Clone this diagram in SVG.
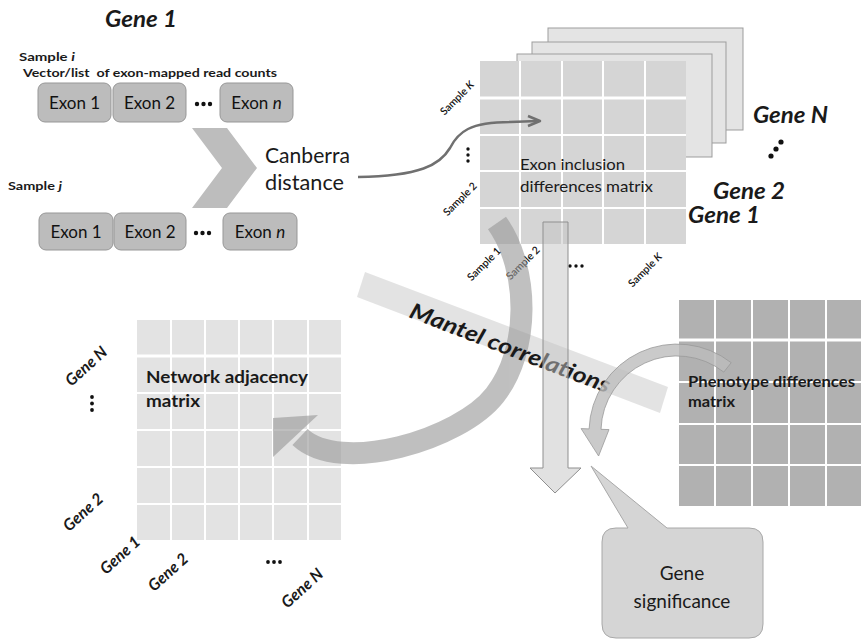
<svg xmlns="http://www.w3.org/2000/svg" width="861" height="640" viewBox="0 0 861 640">
<style>
text{font-family:Lato,"Open Sans","Liberation Sans",sans-serif;fill:#1a1a1a}
.gt{font-weight:bold;font-style:italic}
.b{font-weight:bold}
.exon{fill:#bcbcbc;stroke:#979797;stroke-width:1}
.exl{font-size:17px;text-anchor:middle;fill:#111}
.grid{stroke:#fff;stroke-width:2}
.plate{fill:#e4e4e4;stroke:#9d9d9d;stroke-width:1}
.sl{font-size:10.5px;font-weight:600;text-anchor:middle;fill:#111}
.gl{font-size:16px;font-weight:bold;font-style:italic;text-anchor:middle}
.dot{fill:#111}
</style>

<g id="gene1-title"><text class="gt" x="105" y="27" font-size="22" textLength="72" lengthAdjust="spacingAndGlyphs">Gene 1</text></g>

<g id="sample-i">
<text class="b" x="19" y="61" font-size="12" textLength="56" lengthAdjust="spacingAndGlyphs">Sample <tspan font-style="italic">i</tspan></text>
<text class="b" x="23" y="77" font-size="12" textLength="254" lengthAdjust="spacingAndGlyphs" style="white-space:pre">Vector/list  of exon-mapped read counts</text>
<rect class="exon" x="38" y="83" width="73" height="39" rx="7"/>
<rect class="exon" x="113" y="83" width="73" height="39" rx="7"/>
<rect class="exon" x="220" y="83" width="73" height="39" rx="7"/>
<text class="exl" x="74.5" y="109">Exon 1</text>
<text class="exl" x="149.5" y="109">Exon 2</text>
<text class="exl" x="256.5" y="109">Exon <tspan font-style="italic">n</tspan></text>
<circle class="dot" cx="197" cy="104" r="2.2"/><circle class="dot" cx="203.5" cy="104" r="2.2"/><circle class="dot" cx="210" cy="104" r="2.2"/>
</g>

<g id="sample-j">
<text class="b" x="8" y="190" font-size="11" textLength="54" lengthAdjust="spacingAndGlyphs">Sample <tspan font-style="italic">j</tspan></text>
<rect class="exon" x="39" y="213" width="74" height="37" rx="7"/>
<rect class="exon" x="114" y="213" width="72" height="37" rx="7"/>
<rect class="exon" x="223" y="213" width="74" height="37" rx="7"/>
<text class="exl" x="76" y="238">Exon 1</text>
<text class="exl" x="150" y="238">Exon 2</text>
<text class="exl" x="260" y="238">Exon <tspan font-style="italic">n</tspan></text>
<circle class="dot" cx="196" cy="233" r="2.2"/><circle class="dot" cx="202.5" cy="233" r="2.2"/><circle class="dot" cx="209" cy="233" r="2.2"/>
</g>

<g id="canberra">
<polygon points="192,128 227,128 257,168 227,208 192,208 222,168" fill="#bdbdbd"/>
<text x="265" y="163" font-size="22" fill="#111" textLength="85" lengthAdjust="spacingAndGlyphs">Canberra</text>
<text x="265" y="190" font-size="22" fill="#111" textLength="79" lengthAdjust="spacingAndGlyphs">distance</text>
</g>

<g id="exon-matrix">
<rect class="plate" x="548" y="28" width="195" height="102"/>
<rect class="plate" x="532" y="42" width="194" height="101"/>
<rect class="plate" x="517" y="54" width="195" height="103"/>
<rect x="480" y="61" width="206" height="183" fill="#d5d5d5"/>
<g class="grid">
<line x1="520" y1="61" x2="520" y2="244"/><line x1="562" y1="61" x2="562" y2="244"/><line x1="603" y1="61" x2="603" y2="244"/><line x1="645" y1="61" x2="645" y2="244"/>
<line x1="480" y1="98" x2="686" y2="98" stroke-width="3"/><line x1="480" y1="135" x2="686" y2="135"/><line x1="480" y1="171" x2="686" y2="171"/><line x1="480" y1="208" x2="686" y2="208"/>
</g>
<text x="520" y="170" font-size="16" fill="#111" textLength="105" lengthAdjust="spacingAndGlyphs">Exon inclusion</text>
<text x="520" y="192" font-size="16" fill="#111" textLength="133" lengthAdjust="spacingAndGlyphs">differences matrix</text>
<text class="sl" transform="translate(457,98) rotate(-45)" dy="0.35em">Sample <tspan font-style="italic">K</tspan></text>
<circle class="dot" cx="468" cy="149" r="1.7"/><circle class="dot" cx="468" cy="155" r="1.7"/><circle class="dot" cx="468" cy="161" r="1.7"/>
<text class="sl" transform="translate(460,199) rotate(-45)" dy="0.35em">Sample 2</text>
<text class="sl" transform="translate(484,264) rotate(-45)" dy="0.35em">Sample 1</text>
<text class="sl" transform="translate(523,263) rotate(-45)" dy="0.35em">Sample 2</text>
<circle class="dot" cx="570" cy="266" r="1.7"/><circle class="dot" cx="576" cy="266" r="1.7"/><circle class="dot" cx="582" cy="266" r="1.7"/>
<text class="sl" transform="translate(645,270) rotate(-45)" dy="0.35em">Sample <tspan font-style="italic">K</tspan></text>
<text class="gt" x="753" y="123" font-size="23" textLength="75" lengthAdjust="spacingAndGlyphs">Gene N</text>
<circle class="dot" cx="771" cy="156" r="2.6"/><circle class="dot" cx="776" cy="149" r="2.6"/><circle class="dot" cx="781" cy="142" r="2.6"/>
<text class="gt" x="713" y="199" font-size="23" textLength="72" lengthAdjust="spacingAndGlyphs">Gene 2</text>
<text class="gt" x="688" y="223" font-size="23" textLength="72" lengthAdjust="spacingAndGlyphs">Gene 1</text>
</g>

<g id="adjacency-matrix">
<rect x="137" y="320" width="204" height="220" fill="#e3e3e3"/>
<g class="grid">
<line x1="171" y1="320" x2="171" y2="540"/><line x1="205" y1="320" x2="205" y2="540"/><line x1="239" y1="320" x2="239" y2="540"/><line x1="273" y1="320" x2="273" y2="540"/><line x1="308" y1="320" x2="308" y2="540"/>
<line x1="137" y1="356" x2="341" y2="356" stroke-width="3"/><line x1="137" y1="393" x2="341" y2="393"/><line x1="137" y1="430" x2="341" y2="430"/><line x1="137" y1="467" x2="341" y2="467"/><line x1="137" y1="504" x2="341" y2="504"/>
</g>
<text class="b" x="146" y="383" font-size="17" textLength="162" lengthAdjust="spacingAndGlyphs">Network adjacency</text>
<text class="b" x="146" y="407" font-size="17" textLength="54" lengthAdjust="spacingAndGlyphs">matrix</text>
<text class="gl" transform="translate(86,366) rotate(-42)" dy="0.35em">Gene N</text>
<circle class="dot" cx="92" cy="397" r="1.9"/><circle class="dot" cx="92" cy="403.5" r="1.9"/><circle class="dot" cx="92" cy="410" r="1.9"/>
<text class="gl" transform="translate(83,512) rotate(-42)" dy="0.35em">Gene 2</text>
<text class="gl" transform="translate(120,555) rotate(-42)" dy="0.35em">Gene 1</text>
<text class="gl" transform="translate(168,572) rotate(-42)" dy="0.35em">Gene 2</text>
<circle class="dot" cx="268" cy="562" r="1.9"/><circle class="dot" cx="274" cy="562" r="1.9"/><circle class="dot" cx="280" cy="562" r="1.9"/>
<text class="gl" transform="translate(302,588) rotate(-42)" dy="0.35em">Gene N</text>
</g>

<g id="phenotype-matrix">
<rect x="679" y="300" width="182" height="206" fill="#b1b1b1"/>
<g class="grid">
<line x1="715" y1="300" x2="715" y2="506"/><line x1="752" y1="300" x2="752" y2="506"/><line x1="789" y1="300" x2="789" y2="506"/><line x1="826" y1="300" x2="826" y2="506"/>
<line x1="679" y1="340" x2="861" y2="340" stroke-width="3"/><line x1="679" y1="382" x2="861" y2="382"/><line x1="679" y1="424" x2="861" y2="424"/><line x1="679" y1="465" x2="861" y2="465"/>
</g>
<text class="b" x="688" y="387" font-size="16" textLength="167" lengthAdjust="spacingAndGlyphs">Phenotype differences</text>
<text class="b" x="688" y="407" font-size="16" textLength="47" lengthAdjust="spacingAndGlyphs">matrix</text>
</g>

<g id="connectors">
<polygon id="mantel-band" points="365,272 668,387 660,413 357,297" fill="#d9d9d9" opacity="0.75"/>
<g id="big-arrow" opacity="0.62">
<path d="M497,223 C530,270 530,350 495,395 C460,440 340,475 300,437" fill="none" stroke="#999" stroke-width="22"/>
<polygon points="273,418 318,415 273,457" fill="#999"/>
</g>
<text id="mantel-label" class="gt" transform="translate(408,317) rotate(21)" font-size="22" textLength="213" lengthAdjust="spacingAndGlyphs">Mantel correlations</text>
<polygon id="down-arrow" points="543,222 568,222 568,468 581,468 555,493 530,468 543,468" fill="#c4c4c4" fill-opacity="0.5" stroke="#8f8f8f" stroke-width="1"/>
<path id="phenotype-arrow" d="M731.2,362.7 A88,88 0 0 0 589.1,428.9 L581.1,428.6 L598.6,456 L609,429.6 L601,429.3 A76,76 0 0 1 723.8,372.1 Z" fill="#bdbdbd" fill-opacity="0.8" stroke="#999" stroke-width="0.8"/>
<path id="canberra-arrow" d="M358,177 C420,176 440,165 450,148 C458,132 470,122 510,122 L538,121" fill="none" stroke="#707070" stroke-width="2.5"/>
<polyline points="528,116 540,121 528,126" fill="none" stroke="#707070" stroke-width="2.5" stroke-linejoin="round"/>
</g>

<g id="gene-significance">
<path d="M616,528 L628,528 L591,466 L667,528 L749,528 Q763,528 763,542 L763,624 Q763,638 749,638 L616,638 Q602,638 602,624 L602,542 Q602,528 616,528 Z" fill="#d5d5d5" stroke="#a8a8a8" stroke-width="1"/>
<text x="682" y="580" font-size="19" text-anchor="middle" fill="#222">Gene</text>
<text x="682" y="608" font-size="19" text-anchor="middle" fill="#222">significance</text>
</g>
</svg>
